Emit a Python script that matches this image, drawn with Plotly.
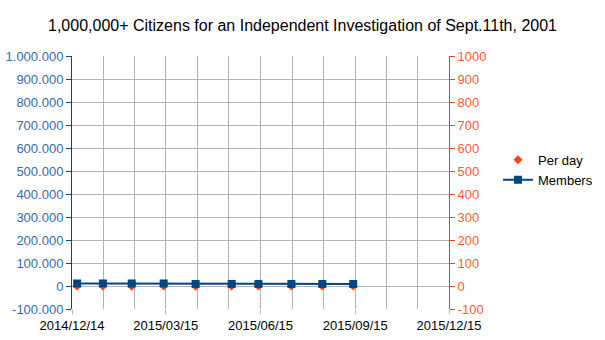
import pandas as pd
import plotly.graph_objects as go

# Sample dates and series values
dates = ["2014-12-19", "2015-01-13", "2015-02-10", "2015-03-13", "2015-04-13",
         "2015-05-18", "2015-06-13", "2015-07-15", "2015-08-14", "2015-09-13"]
members = [11000, 11000, 11000, 11000, 9000, 9000, 9000, 9000, 9000, 9000]
per_day = [0, 0, -1, 0, -1, 0, 0, 0, 0, 0]

# Axis ticks
x_ticks = ["2014-12-14", "2015-03-15", "2015-06-15", "2015-09-15", "2015-12-15"]
x_labels = ["2014/12/14", "2015/03/15", "2015/06/15", "2015/09/15", "2015/12/15"]
left_ticks = [-100000, 0, 100000, 200000, 300000, 400000, 500000,
              600000, 700000, 800000, 900000, 1000000]
left_labels = ["-100.000", "0", "100.000", "200.000", "300.000", "400.000", "500.000",
               "600.000", "700.000", "800.000", "900.000", "1.000.000"]
right_ticks = [-100, 0, 100, 200, 300, 400, 500, 600, 700, 800, 900, 1000]
right_labels = ["-100", "0", "100", "200", "300", "400", "500",
                "600", "700", "800", "900", "1000"]

# Minor gridlines split each major interval in thirds
major = pd.to_datetime(x_ticks)
minor = []
for a, b in zip(major[:-1], major[1:]):
    step = (b - a) / 3
    minor += [a + step, a + 2 * step]
minor = [d.strftime("%Y-%m-%d %H:%M") for d in minor]

BLUE = "#004586"
ORANGE = "#ff420e"
GRID = "#b3b3b3"
FONT = "Liberation Sans, Arial, sans-serif"

fig = go.Figure()
# Per day lives on the base (right-hand) scale so Members draws above it
fig.add_trace(go.Scatter(
    x=dates, y=per_day, name="Per day", yaxis="y", mode="markers",
    marker=dict(symbol="diamond", size=7, color=ORANGE),
))
fig.add_trace(go.Scatter(
    x=dates, y=members, name="Members", mode="lines+markers", yaxis="y2",
    line=dict(color=BLUE, width=2),
    marker=dict(symbol="square", size=8, color=BLUE),
))

fig.update_layout(
    width=605, height=340,
    margin=dict(l=72, r=156, t=56, b=31, autoexpand=False),
    paper_bgcolor="white", plot_bgcolor="white",
    font=dict(family=FONT, size=13, color="black"),
    title=dict(text="1,000,000+ Citizens for an Independent Investigation of Sept.11th, 2001",
               x=0.5, xanchor="center", y=0.925, yanchor="middle",
               font=dict(size=16, color="black")),
    showlegend=True,
    legend=dict(x=1.13, y=0.55, xanchor="left", yanchor="middle",
                font=dict(size=13, color="black"), bgcolor="rgba(0,0,0,0)",
                tracegroupgap=0),
    hovermode=False,
    xaxis=dict(
        type="date", range=["2014-12-14", "2015-12-15"], automargin=False,
        tickmode="array", tickvals=x_ticks, ticktext=x_labels,
        showgrid=True, gridcolor=GRID, gridwidth=1,
        ticks="outside", ticklen=4, tickcolor=GRID,
        showline=False, zeroline=False,
        tickfont=dict(size=13, color="black"),
        minor=dict(tickmode="array", tickvals=minor, showgrid=True,
                   gridcolor=GRID, gridwidth=1, ticks=""),
    ),
    # Right-hand scale (Per day); its ticks line up with the left ones, so it carries the grid
    yaxis=dict(
        range=[-100, 1000], side="right", automargin=False,
        tickmode="array", tickvals=right_ticks, ticktext=right_labels,
        showgrid=True, gridcolor=GRID, gridwidth=1,
        showline=True, linecolor=ORANGE, linewidth=1,
        ticks="outside", ticklen=5, tickcolor=ORANGE, tickwidth=1,
        zeroline=False,
        tickfont=dict(size=13, color="#ff5a36"),
    ),
    # Left-hand scale (Members)
    yaxis2=dict(
        range=[-100000, 1000000], overlaying="y", side="left", automargin=False,
        tickmode="array", tickvals=left_ticks, ticktext=left_labels,
        showgrid=False,
        showline=True, linecolor=BLUE, linewidth=1,
        ticks="outside", ticklen=5, tickcolor=BLUE, tickwidth=1,
        zeroline=False,
        tickfont=dict(size=13, color="#2f6cb0"),
    ),
)

fig.write_html("out.html")
